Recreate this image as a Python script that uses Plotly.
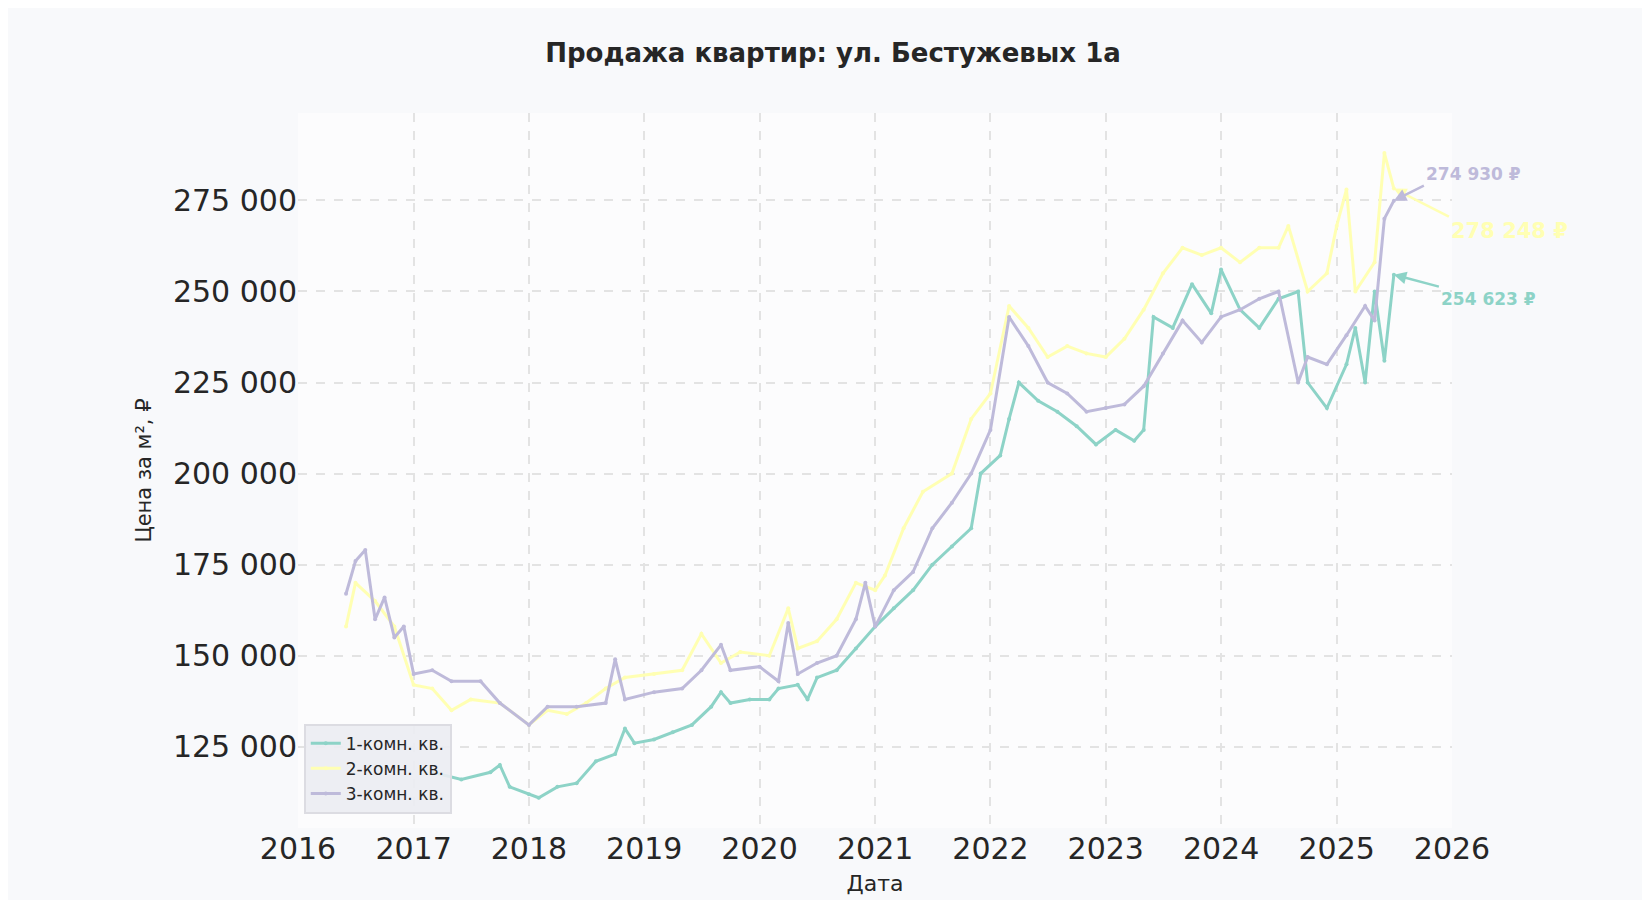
import plotly.graph_objects as go

dates_1 = ["2017-03", "2017-06", "2017-09", "2017-10", "2017-11", "2018-01", "2018-02", "2018-04", "2018-06",
           "2018-08", "2018-10", "2018-11", "2018-12", "2019-02", "2019-04", "2019-06", "2019-08", "2019-09",
           "2019-10", "2019-12", "2020-02", "2020-03", "2020-05", "2020-06", "2020-07", "2020-09", "2020-11",
           "2021-01", "2021-03", "2021-05", "2021-07", "2021-09", "2021-11", "2021-12", "2022-02", "2022-03",
           "2022-04", "2022-06", "2022-08", "2022-10", "2022-12", "2023-02", "2023-04", "2023-05", "2023-06",
           "2023-08", "2023-10", "2023-12", "2024-01", "2024-03", "2024-05", "2024-07", "2024-09", "2024-10",
           "2024-12", "2025-02", "2025-03", "2025-04", "2025-05", "2025-06", "2025-07"]
price_1 = [118, 116, 118, 120, 114, 112, 111, 114, 115, 121, 123, 130, 126, 127, 129, 131, 136, 140, 137, 138,
           138, 141, 142, 138, 144, 146, 152, 158, 163, 168, 175, 180, 185, 200, 205, 215, 225, 220, 217, 213,
           208, 212, 209, 212, 243, 240, 252, 244, 256, 245, 240, 248, 250, 225, 218, 230, 240, 225, 250, 231,
           254.623]

dates_2 = ["2016-06", "2016-07", "2016-09", "2016-11", "2017-01", "2017-03", "2017-05", "2017-07", "2017-10",
           "2018-01", "2018-03", "2018-05", "2018-07", "2018-09", "2018-11", "2019-02", "2019-05", "2019-07",
           "2019-09", "2019-11", "2020-02", "2020-04", "2020-05", "2020-07", "2020-09", "2020-11", "2021-01",
           "2021-02", "2021-04", "2021-06", "2021-09", "2021-11", "2022-01", "2022-03", "2022-05", "2022-07",
           "2022-09", "2022-11", "2023-01", "2023-03", "2023-05", "2023-07", "2023-09", "2023-11", "2024-01",
           "2024-03", "2024-05", "2024-07", "2024-08", "2024-10", "2024-12", "2025-01", "2025-02", "2025-03",
           "2025-05", "2025-06", "2025-07"]
price_2 = [158, 170, 165, 158, 142, 141, 135, 138, 137, 131, 135, 134, 137, 141, 144, 145, 146, 156, 148, 151,
           150, 163, 152, 154, 160, 170, 168, 172, 185, 195, 200, 215, 222, 246, 240, 232, 235, 233, 232, 237,
           245, 255, 262, 260, 262, 258, 262, 262, 268, 250, 255, 268, 278, 250, 258, 288, 278.248]

dates_3 = ["2016-06", "2016-07", "2016-08", "2016-09", "2016-10", "2016-11", "2016-12", "2017-01", "2017-03",
           "2017-05", "2017-08", "2017-10", "2018-01", "2018-03", "2018-06", "2018-09", "2018-10", "2018-11",
           "2019-02", "2019-05", "2019-07", "2019-09", "2019-10", "2020-01", "2020-03", "2020-04", "2020-05",
           "2020-07", "2020-09", "2020-11", "2020-12", "2021-01", "2021-03", "2021-05", "2021-07", "2021-09",
           "2021-11", "2022-01", "2022-03", "2022-05", "2022-07", "2022-09", "2022-11", "2023-01", "2023-03",
           "2023-05", "2023-07", "2023-09", "2023-11", "2024-01", "2024-03", "2024-05", "2024-07", "2024-09",
           "2024-10", "2024-12", "2025-02", "2025-04", "2025-05", "2025-06", "2025-07"]
price_3 = [167, 176, 179, 160, 166, 155, 158, 145, 146, 143, 143, 137, 131, 136, 136, 137, 149, 138, 140, 141,
           146, 153, 146, 147, 143, 159, 145, 148, 150, 160, 170, 158, 168, 173, 185, 192, 200, 212, 243, 235,
           225, 222, 217, 218, 219, 224, 233, 242, 236, 243, 245, 248, 250, 225, 232, 230, 238, 246, 242, 270,
           274.93]

names = ["1-комн. кв.", "2-комн. кв.", "3-комн. кв."]
colors = ["#8dd3c7", "#ffffb3", "#bebada"]
series = [(dates_1, price_1), (dates_2, price_2), (dates_3, price_3)]

fig = go.Figure()
for (d, p), name, color in zip(series, names, colors):
    fig.add_trace(go.Scatter(
        x=d, y=[v * 1000 for v in p], name=name, mode="lines+markers",
        line=dict(color=color, width=3), marker=dict(size=4, color=color),
    ))

# last-value labels
offsets = [(45, 12), (55, 28), (30, -15)]
label_y = [price_1[-1], price_2[-1], price_3[-1]]
label_x = [dates_1[-1], dates_2[-1], dates_3[-1]]
for i in range(3):
    v = label_y[i] * 1000
    fig.add_annotation(
        x=label_x[i], y=v, text=f"<b>{round(v):,} ₽</b>".replace(",", " "),
        showarrow=True, arrowhead=2, arrowcolor=colors[i], arrowwidth=2.5,
        ax=offsets[i][0], ay=offsets[i][1], xanchor="left", yanchor="top" if i < 2 else "bottom",
        font=dict(color=colors[i], size=21 if i == 1 else 17, family="DejaVu Sans"),
    )

fig.update_layout(
    width=1650, height=900,
    title=dict(text="<b>Продажа квартир: ул. Бестужевых 1а</b>", x=0.5, y=0.96,
               font=dict(size=26, color="#262626")),
    paper_bgcolor="#f8f9fb", plot_bgcolor="#fcfcfd",
    font=dict(family="DejaVu Sans", color="#262626"),
    margin=dict(l=290, r=206, t=105, b=80),
    xaxis=dict(range=["2016-01-01", "2026-01-01"], dtick="M12", tickformat="%Y",
               tickfont=dict(size=30), title=dict(text="Дата", font=dict(size=22), standoff=10),
               showgrid=True, gridcolor="#e3e3e3", griddash="dash", gridwidth=2, zeroline=False),
    yaxis=dict(range=[102700, 299000], tickvals=[125000, 150000, 175000, 200000, 225000, 250000, 275000],
               ticktext=["125 000", "150 000", "175 000", "200 000", "225 000", "250 000", "275 000"],
               tickfont=dict(size=30), title=dict(text="Цена за м², ₽", font=dict(size=21)),
               showgrid=True, gridcolor="#e3e3e3", griddash="dash", gridwidth=2, zeroline=False),
    legend=dict(x=0.005, y=0.02, xanchor="left", yanchor="bottom", bgcolor="rgba(235,236,242,0.9)",
                bordercolor="#dcdce2", borderwidth=2, font=dict(size=17)),
)

fig.write_html("out.html")
